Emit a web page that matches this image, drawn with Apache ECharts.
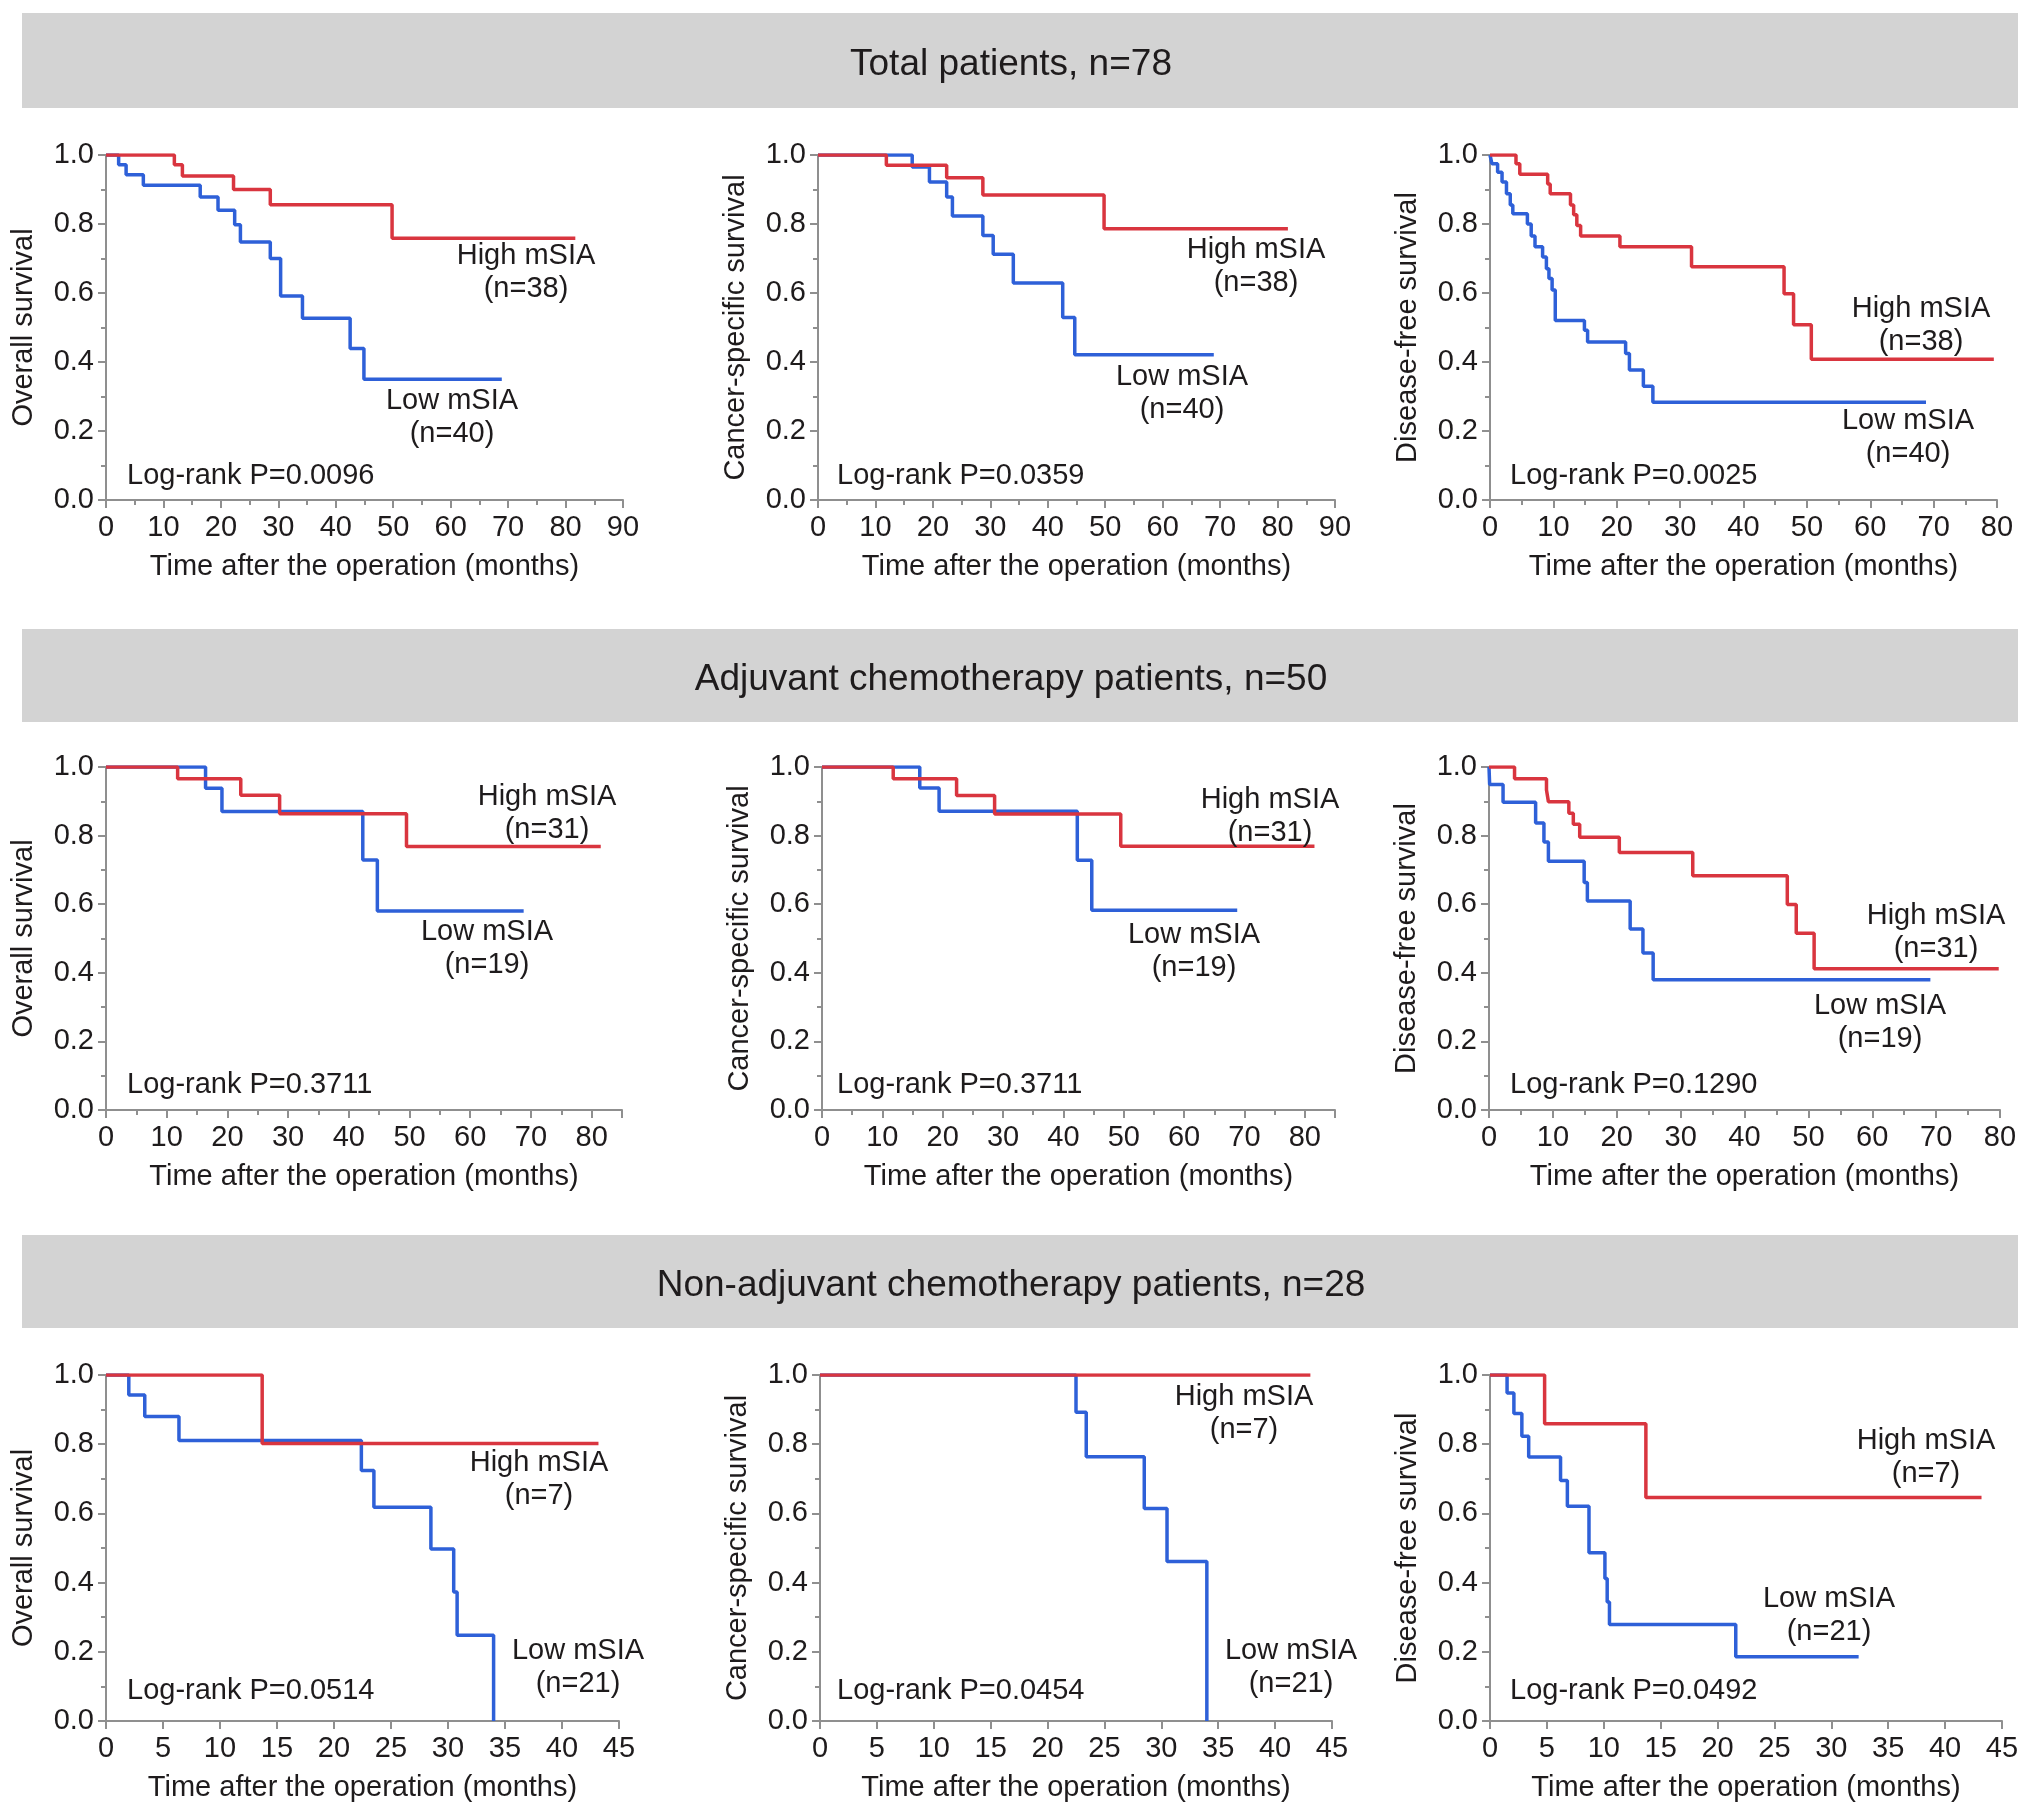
<!DOCTYPE html>
<html>
<head>
<meta charset="utf-8">
<script src="https://cdn.jsdelivr.net/npm/echarts/dist/echarts.min.js"></script>
<style>
html,body{margin:0;padding:0;background:#fff;}
#chart{width:2032px;height:1814px;}
</style>
</head>
<body>
<div id="chart"></div>
<script>
// ---------------- DATA (time in months, survival proportion) ----------------
const TOTAL_OS_HIGH  = [[0,1],[11.9,0.972],[13.3,0.939],[22.2,0.900],[28.6,0.856],[49.8,0.759],[81.7,0.759]];
const TOTAL_OS_LOW   = [[0,1],[2.2,0.972],[3.5,0.943],[6.5,0.912],[16.4,0.878],[19.5,0.840],[22.4,0.798],[23.4,0.748],[28.6,0.700],[30.4,0.591],[34.2,0.527],[42.5,0.439],[44.9,0.350],[68.9,0.350]];
const TOTAL_CSS_HIGH = [[0,1],[11.9,0.970],[22.4,0.934],[28.7,0.884],[49.8,0.786],[81.8,0.786]];
const TOTAL_CSS_LOW  = [[0,1],[16.4,0.965],[19.4,0.922],[22.4,0.878],[23.4,0.823],[28.7,0.767],[30.5,0.712],[34.0,0.629],[42.6,0.529],[44.7,0.421],[68.9,0.421]];
const TOTAL_DFS_HIGH = [[0,1],[4.1,0.975],[4.7,0.944],[9.1,0.916],[9.5,0.888],[12.7,0.855],[13.2,0.827],[13.7,0.796],[14.3,0.765],[20.5,0.734],[31.8,0.676],[46.4,0.598],[47.9,0.508],[50.7,0.408],[79.5,0.408]];
const TOTAL_DFS_LOW  = [[0,1],[0.3,0.975],[1.2,0.950],[1.9,0.922],[2.6,0.888],[3.2,0.855],[3.6,0.830],[5.9,0.800],[6.5,0.765],[7.1,0.734],[8.3,0.704],[8.9,0.670],[9.3,0.642],[9.8,0.609],[10.3,0.520],[14.9,0.492],[15.4,0.458],[21.4,0.425],[22.0,0.377],[24.2,0.330],[25.7,0.283],[68.8,0.283]];

const ADJ_OS_HIGH  = [[0,1],[11.8,0.966],[22.2,0.918],[28.6,0.864],[49.5,0.768],[81.5,0.768]];
const ADJ_OS_LOW   = [[0,1],[16.4,0.938],[19.1,0.870],[42.3,0.729],[44.7,0.580],[68.8,0.580]];
const ADJ_CSS_HIGH = [[0,1],[11.8,0.966],[22.3,0.917],[28.6,0.863],[49.5,0.769],[81.6,0.769]];
const ADJ_CSS_LOW  = [[0,1],[16.2,0.939],[19.4,0.871],[42.3,0.728],[44.7,0.582],[68.8,0.582]];
const ADJ_DFS_HIGH = [[0,1],[4.0,0.966],[9.0,0.933],[9.3,0.899],[12.5,0.865],[13.2,0.833],[14.2,0.795],[20.4,0.751],[31.9,0.683],[46.7,0.599],[48.1,0.515],[50.9,0.412],[79.8,0.412]];
const ADJ_DFS_LOW  = [[0,1],[0.1,0.949],[2.2,0.897],[7.3,0.837],[8.6,0.781],[9.3,0.725],[14.9,0.663],[15.4,0.609],[22.1,0.528],[24.1,0.458],[25.7,0.380],[69.1,0.380]];

const NON_OS_HIGH  = [[0,1],[13.7,0.802],[43.2,0.802]];
const NON_OS_LOW   = [[0,1],[2.0,0.942],[3.4,0.880],[6.4,0.811],[22.4,0.724],[23.5,0.618],[28.5,0.497],[30.5,0.373],[30.8,0.248],[34.0,0]];
const NON_CSS_HIGH = [[0,1],[43.1,1]];
const NON_CSS_LOW  = [[0,1],[22.5,0.892],[23.4,0.764],[28.5,0.614],[30.5,0.461],[34.0,0]];
const NON_DFS_HIGH = [[0,1],[4.8,0.859],[13.7,0.646],[43.2,0.646]];
const NON_DFS_LOW  = [[0,1],[1.5,0.948],[2.1,0.889],[2.8,0.823],[3.4,0.763],[6.2,0.695],[6.8,0.621],[8.7,0.486],[10.1,0.412],[10.3,0.344],[10.5,0.279],[21.6,0.186],[32.4,0.186]];

const SECTION_TITLES = ['Total patients, n=78','Adjuvant chemotherapy patients, n=50','Non-adjuvant chemotherapy patients, n=28'];
const Y_NAMES = ['Overall survival','Cancer-specific survival','Disease-free survival'];
const X_NAME = 'Time after the operation (months)';
const P_VALUES = [['0.0096','0.0359','0.0025'],['0.3711','0.3711','0.1290'],['0.0514','0.0454','0.0492']];
const N_HIGH = [38,31,7];
const N_LOW  = [40,19,21];
const CURVES = [
  [[TOTAL_OS_HIGH,TOTAL_OS_LOW],[TOTAL_CSS_HIGH,TOTAL_CSS_LOW],[TOTAL_DFS_HIGH,TOTAL_DFS_LOW]],
  [[ADJ_OS_HIGH,ADJ_OS_LOW],[ADJ_CSS_HIGH,ADJ_CSS_LOW],[ADJ_DFS_HIGH,ADJ_DFS_LOW]],
  [[NON_OS_HIGH,NON_OS_LOW],[NON_CSS_HIGH,NON_CSS_LOW],[NON_DFS_HIGH,NON_DFS_LOW]]
];
const X_MAX = [[90,90,80],[85,85,80],[45,45,45]];
const X_INTERVAL = [10,10,5];

// ---------------- LAYOUT ----------------
const FONT = '"Liberation Sans", Arial, Helvetica, sans-serif';
const TXT = '#1e1b1c';
const AXIS = '#8f8f8f';
const RED = '#d9353f';
const BLUE = '#2e60d8';
const FS = 29;
const BANDS = [[13,95],[629,93],[1235,93]];
const GRIDS = [
  [{l:106,t:155,w:517,h:345},{l:818,t:155,w:517,h:345},{l:1490,t:155,w:507,h:345}],
  [{l:106,t:767,w:516,h:343},{l:822,t:767,w:513,h:343},{l:1489,t:767,w:511,h:343}],
  [{l:106,t:1375,w:513,h:346},{l:820,t:1375,w:512,h:346},{l:1490,t:1375,w:512,h:346}]
];
const HIGH_POS = [[[526,272],[1256,266],[1921,325]],[[547,813],[1270,816],[1936,932]],[[539,1479],[1244,1413],[1926,1457]]];
const LOW_POS  = [[[452,417],[1182,393],[1908,437]],[[487,948],[1194,951],[1880,1022]],[[578,1667],[1291,1667],[1829,1615]]];
const P_POS_X = [127,837,1510];
const P_POS_Y = [476,1085,1691];

const grids=[], xAxes=[], yAxes=[], series=[], graphics=[];

function txt(x,y,text,size,extra){
  return Object.assign({type:'text', x:x, y:y, z:50, style:{text:text, font:size+'px '+FONT, fill:TXT,
    align:'center', verticalAlign:'middle', textAlign:'center', textVerticalAlign:'middle', lineHeight:33}}, extra||{});
}

BANDS.forEach(function(b,i){
  graphics.push({type:'rect', shape:{x:22,y:b[0],width:1996,height:b[1]}, style:{fill:'#d3d3d3'}, z:1});
  graphics.push(txt(1011, b[0]+b[1]/2+4, SECTION_TITLES[i], 37));
});

let idx=0;
for(let r=0;r<3;r++){
  for(let c=0;c<3;c++){
    const g=GRIDS[r][c];
    grids.push({left:g.l, top:g.t, width:g.w, height:g.h, containLabel:false});
    const xInt = X_INTERVAL[r];
    xAxes.push({
      type:'value', gridIndex:idx, min:0, max:X_MAX[r][c], interval:xInt,
      axisLine:{show:true, onZero:false, lineStyle:{color:AXIS, width:2}},
      axisTick:{show:true, length:8, lineStyle:{color:AXIS, width:2}},
      minorTick:{show:r<2, splitNumber:2, length:5, lineStyle:{color:AXIS, width:2}},
      splitLine:{show:false}, minorSplitLine:{show:false},
      axisLabel:{fontSize:FS, fontFamily:FONT, color:TXT, margin:13, showMaxLabel:true,
        formatter:function(v){ return (Math.round(v*1000)%Math.round(xInt*1000)===0) ? String(v) : ''; }},
      name:X_NAME, nameLocation:'middle', nameGap:52,
      nameTextStyle:{fontSize:FS, fontFamily:FONT, color:TXT}
    });
    yAxes.push({
      type:'value', gridIndex:idx, min:0, max:1, interval:0.2,
      axisLine:{show:true, onZero:false, lineStyle:{color:AXIS, width:2}},
      axisTick:{show:true, length:8, lineStyle:{color:AXIS, width:2}},
      minorTick:{show:true, splitNumber:2, length:5, lineStyle:{color:AXIS, width:2}},
      splitLine:{show:false}, minorSplitLine:{show:false},
      axisLabel:{fontSize:FS, fontFamily:FONT, color:TXT, margin:12, formatter:function(v){return v.toFixed(1);}},
      name:Y_NAMES[c], nameLocation:'middle', nameGap:68, nameRotate:90,
      nameTextStyle:{fontSize:FS, fontFamily:FONT, color:TXT}
    });
    const curves=CURVES[r][c];
    series.push({type:'line', name:'Low mSIA', xAxisIndex:idx, yAxisIndex:idx, data:curves[1], step:'end',
      showSymbol:false, symbol:'none', lineStyle:{color:BLUE, width:3.5}, itemStyle:{color:BLUE}, z:3, animation:false});
    series.push({type:'line', name:'High mSIA', xAxisIndex:idx, yAxisIndex:idx, data:curves[0], step:'end',
      showSymbol:false, symbol:'none', lineStyle:{color:RED, width:3.5}, itemStyle:{color:RED}, z:4, animation:false});
    const hp=HIGH_POS[r][c], lp=LOW_POS[r][c];
    graphics.push(txt(hp[0], hp[1], 'High mSIA\n(n='+N_HIGH[r]+')', FS));
    graphics.push(txt(lp[0], lp[1], 'Low mSIA\n(n='+N_LOW[r]+')', FS));
    graphics.push({type:'text', x:P_POS_X[c], y:P_POS_Y[r], z:50, style:{text:'Log-rank P='+P_VALUES[r][c],
      font:FS+'px '+FONT, fill:TXT, align:'left', verticalAlign:'middle', textAlign:'left', textVerticalAlign:'middle'}});
    idx++;
  }
}

const chart = echarts.init(document.getElementById('chart'), null, {renderer:'canvas'});
chart.setOption({
  backgroundColor:'#ffffff',
  animation:false,
  grid:grids, xAxis:xAxes, yAxis:yAxes, series:series,
  graphic:{elements:graphics}
});
</script>
</body>
</html>
